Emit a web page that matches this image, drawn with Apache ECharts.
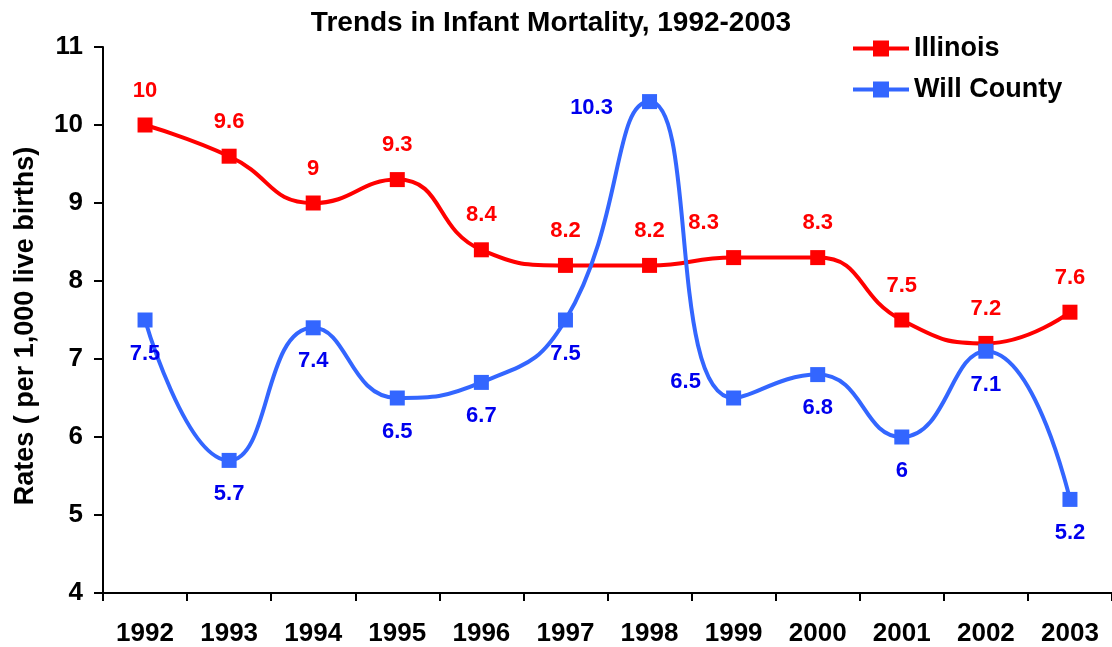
<!DOCTYPE html>
<html>
<head>
<meta charset="utf-8">
<script src="https://cdn.jsdelivr.net/npm/echarts@6/dist/echarts.min.js"></script>
<style>
  html, body { margin: 0; padding: 0; background: #ffffff; }
  #chart { width: 1112px; height: 647px; }
</style>
</head>
<body>
<div id="chart"></div>
<script>
const years = ['1992','1993','1994','1995','1996','1997','1998','1999','2000','2001','2002','2003'];
const illinois = [10, 9.6, 9, 9.3, 8.4, 8.2, 8.2, 8.3, 8.3, 7.5, 7.2, 7.6];
const willCounty = [7.5, 5.7, 7.4, 6.5, 6.7, 7.5, 10.3, 6.5, 6.8, 6, 7.1, 5.2];
const yTicks = [4, 5, 6, 7, 8, 9, 10, 11];

const FONT = 'Liberation Sans, Arial, sans-serif';

// label offset tweaks (layout, not data)
const redOffsets = { 7: [-30, 0] };
const blueOffsets = { 6: [-58, -27], 7: [-48, -50] };

function build(values, offsets) {
  return values.map((v, i) => {
    const item = { value: v };
    if (offsets[i]) item.label = { offset: offsets[i] };
    return item;
  });
}

const chart = echarts.init(document.getElementById('chart'), null, { renderer: 'canvas' });
chart.setOption({
  animation: false,
  backgroundColor: '#ffffff',
  title: {
    text: 'Trends in Infant Mortality, 1992-2003',
    left: 546,
    textAlign: 'center',
    top: 4,
    textStyle: { fontFamily: FONT, fontWeight: 'bold', fontSize: 28, color: '#000' }
  },
  legend: {
    orient: 'vertical',
    left: 846,
    top: 30,
    itemWidth: 56,
    itemHeight: 20,
    itemGap: 14,
    lineStyle: { width: 4 },
    textStyle: { fontFamily: FONT, fontWeight: 'bold', fontSize: 27, color: '#000' },
    data: ['Illinois', 'Will County']
  },
  grid: { left: 103, right: -2, top: 47, bottom: 54, containLabel: false },
  xAxis: {
    type: 'category',
    data: years,
    boundaryGap: true,
    axisLine: { lineStyle: { color: '#000', width: 2 } },
    axisTick: { show: true, length: 8, lineStyle: { color: '#000', width: 2 }, alignWithLabel: false },
    axisLabel: { fontFamily: FONT, fontWeight: 'bold', fontSize: 26, color: '#000', margin: 28, interval: 0 },
    splitLine: { show: false }
  },
  yAxis: {
    type: 'value',
    min: yTicks[0],
    max: yTicks[yTicks.length - 1],
    interval: 1,
    name: 'Rates ( per 1,000 live births)',
    nameLocation: 'middle',
    nameRotate: 90,
    nameGap: 64,
    nameTextStyle: { fontFamily: FONT, fontWeight: 'bold', fontSize: 27, color: '#000', padding: [0, 12, 0, 0] },
    axisLine: { show: true, lineStyle: { color: '#000', width: 2 } },
    axisTick: { show: true, length: 9, inside: false, lineStyle: { color: '#000', width: 2 } },
    axisLabel: { fontFamily: FONT, fontWeight: 'bold', fontSize: 26, color: '#000', margin: 20 },
    splitLine: { show: false }
  },
  series: [
    {
      name: 'Illinois',
      type: 'line',
      smooth: 0.5,
      data: build(illinois, redOffsets),
      symbol: 'rect',
      symbolSize: 15,
      color: '#ff0000',
      lineStyle: { color: '#ff0000', width: 4 },
      itemStyle: { color: '#ff0000' },
      label: {
        show: true, position: 'top', distance: 16,
        fontFamily: FONT, fontWeight: 'bold', fontSize: 22, color: '#ff0000'
      },
      z: 2
    },
    {
      name: 'Will County',
      type: 'line',
      smooth: 0.5,
      data: build(willCounty, blueOffsets),
      symbol: 'rect',
      symbolSize: 15,
      color: '#3366ff',
      lineStyle: { color: '#3366ff', width: 4 },
      itemStyle: { color: '#3366ff' },
      label: {
        show: true, position: 'bottom', distance: 15,
        fontFamily: FONT, fontWeight: 'bold', fontSize: 22, color: '#0000ee'
      },
      z: 3
    }
  ]
});
</script>
</body>
</html>
